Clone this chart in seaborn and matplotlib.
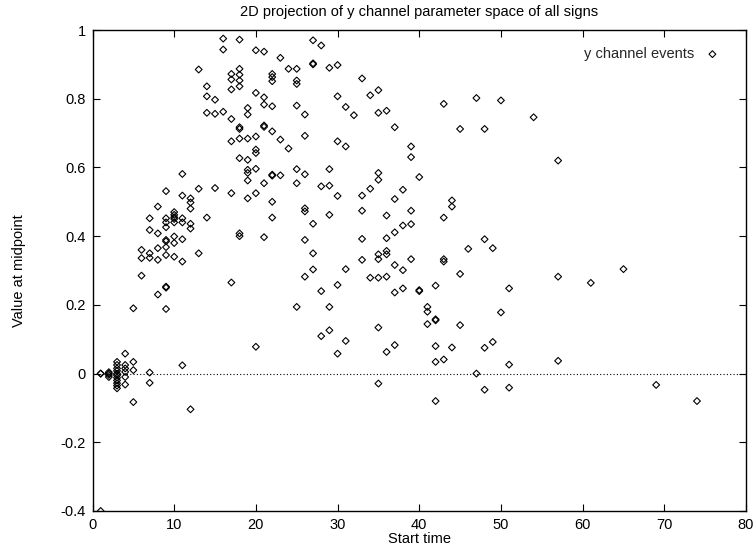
import matplotlib
matplotlib.use("Agg")
import matplotlib.pyplot as plt
import seaborn as sns
import pandas as pd

# ---- data ----
start_time = [
    1, 1, 1,
    2, 2, 2, 2,
    3, 3, 3, 3, 3, 3, 3, 3, 3, 3, 3,
    4, 4, 4, 4, 4, 4,
    5, 5, 5, 5,
    6, 6, 6,
    7, 7, 7, 7, 7, 7,
    8, 8, 8, 8, 8,
    9, 9, 9, 9, 9, 9, 9, 9, 9, 9, 9,
    10, 10, 10, 10, 10, 10, 10, 10,
    11, 11, 11, 11, 11, 11, 11,
    12, 12, 12, 12, 12, 12,
    13, 13, 13,
    14, 14, 14, 14,
    15, 15, 15,
    16, 16, 16,
    17, 17, 17, 17, 17, 17, 17,
    18, 18, 18, 18, 18, 18, 18, 18, 18, 18, 18,
    19, 19, 19, 19, 19, 19, 19, 19,
    20, 20, 20, 20, 20, 20, 20, 20,
    21, 21, 21, 21, 21, 21, 21,
    22, 22, 22, 22, 22, 22, 22, 22, 22,
    23, 23, 23,
    24, 24,
    25, 25, 25, 25, 25, 25, 25,
    26, 26, 26, 26, 26, 26, 26,
    27, 27, 27, 27, 27, 27,
    28, 28, 28, 28,
    29, 29, 29, 29, 29, 29,
    30, 30, 30, 30, 30, 30,
    31, 31, 31, 31,
    32,
    33, 33, 33, 33, 33,
    34, 34, 34,
    35, 35, 35, 35, 35, 35, 35, 35, 35,
    36, 36, 36, 36, 36, 36, 36,
    37, 37, 37, 37, 37, 37,
    38, 38, 38, 38,
    39, 39, 39, 39, 39,
    40, 40, 40,
    41, 41, 41,
    42, 42, 42, 42, 42, 42,
    43, 43, 43, 43, 43,
    44, 44, 44,
    45, 45, 45,
    46,
    47, 47,
    48, 48, 48, 48,
    49, 49,
    50, 50,
    51, 51, 51,
    54,
    57, 57, 57,
    61,
    65,
    69,
    74,
]

value_at_midpoint = [
    0.0, 0.0, -0.4,
    0.004, 0.0, -0.004, -0.01,
    0.034, 0.025, 0.015, 0.008, 0.0, -0.005, -0.012, -0.02, -0.028, -0.035, -0.043,
    0.058, 0.025, 0.015, 0.005, -0.01, -0.032,
    0.19, 0.034, 0.01, -0.083,
    0.36, 0.336, 0.285,
    0.452, 0.418, 0.35, 0.337, 0.003, -0.027,
    0.486, 0.408, 0.365, 0.331, 0.23,
    0.531, 0.452, 0.44, 0.426, 0.389, 0.385, 0.368, 0.345, 0.253, 0.25, 0.188,
    0.47, 0.462, 0.455, 0.45, 0.44, 0.399, 0.38, 0.34,
    0.581, 0.518, 0.452, 0.44, 0.391, 0.326, 0.024,
    0.51, 0.498, 0.48, 0.436, 0.422, -0.104,
    0.885, 0.538, 0.35,
    0.836, 0.807, 0.759, 0.454,
    0.797, 0.756, 0.54,
    0.975, 0.943, 0.762,
    0.872, 0.856, 0.827, 0.741, 0.676, 0.525, 0.265,
    0.972, 0.887, 0.87, 0.853, 0.836, 0.717, 0.712, 0.684, 0.627, 0.408, 0.40,
    0.773, 0.754, 0.684, 0.622, 0.593, 0.584, 0.562, 0.51,
    0.941, 0.817, 0.69, 0.652, 0.642, 0.596, 0.525, 0.078,
    0.937, 0.804, 0.783, 0.722, 0.718, 0.554, 0.397,
    0.872, 0.863, 0.851, 0.778, 0.705, 0.579, 0.576, 0.5, 0.454,
    0.919, 0.681, 0.577,
    0.887, 0.655,
    0.887, 0.853, 0.843, 0.78, 0.595, 0.554, 0.194,
    0.754, 0.692, 0.58, 0.481, 0.472, 0.389, 0.282,
    0.97, 0.903, 0.90, 0.436, 0.35, 0.303,
    0.955, 0.545, 0.24, 0.109,
    0.89, 0.595, 0.547, 0.462, 0.194, 0.126,
    0.898, 0.807, 0.676, 0.517, 0.258, 0.058,
    0.776, 0.661, 0.304, 0.095,
    0.752,
    0.859, 0.518, 0.474, 0.392, 0.331,
    0.81, 0.538, 0.279,
    0.825, 0.759, 0.584, 0.564, 0.347, 0.333, 0.279, 0.134, -0.029,
    0.765, 0.46, 0.394, 0.357, 0.347, 0.282, 0.063,
    0.717, 0.508, 0.411, 0.316, 0.236, 0.083,
    0.535, 0.431, 0.301, 0.248,
    0.661, 0.63, 0.474, 0.435, 0.333,
    0.572, 0.243, 0.24,
    0.194, 0.18, 0.144,
    0.256, 0.158, 0.155, 0.08, 0.034, -0.08,
    0.785, 0.454, 0.333, 0.326, 0.041,
    0.504, 0.486, 0.076,
    0.712, 0.29, 0.141,
    0.363,
    0.802, 0.0,
    0.712, 0.391, 0.075, -0.047,
    0.365, 0.092,
    0.795, 0.178,
    0.248, 0.026, -0.041,
    0.746,
    0.62, 0.282, 0.037,
    0.264,
    0.304,
    -0.033,
    -0.08,
]

x_ticks = [0, 10, 20, 30, 40, 50, 60, 70, 80]
y_ticks = [-0.4, -0.2, 0, 0.2, 0.4, 0.6, 0.8, 1]
y_tick_labels = ["-0.4", "-0.2", "0", "0.2", "0.4", "0.6", "0.8", "1"]

series_name = "y channel events"

# ---- style ----
FS = 10.5
sns.set_theme(style="white")
plt.rcParams["font.family"] = ["Liberation Sans", "DejaVu Sans"]
plt.rcParams["font.size"] = FS

df = pd.DataFrame({"Start time": start_time,
                   "Value at midpoint": value_at_midpoint})

fig = plt.figure(figsize=(7.53, 5.46), dpi=100)
ax = fig.add_axes([92.5 / 753, 1 - 511 / 546, (746 - 92.5) / 753, (511 - 30) / 546])

ax.axhline(0, color="black", lw=0.8, ls=(0, (1, 2)), zorder=1)

sns.scatterplot(data=df, x="Start time", y="Value at midpoint",
                color="black", marker="D", s=12, linewidth=0.8,
                label=series_name, ax=ax, zorder=3)
pts = ax.collections[-1]
pts.set_facecolor("none")
pts.set_edgecolor("black")
pts.set_linewidth(0.8)

ax.set_xlim(0, 80)
ax.set_ylim(-0.4, 1)
ax.set_xticks(x_ticks)
ax.set_yticks(y_ticks)
ax.set_yticklabels(y_tick_labels)

for sp in ax.spines.values():
    sp.set_color("black")
    sp.set_linewidth(1.0)

ax.tick_params(direction="in", length=5, width=0.8, color="black",
               top=True, right=True, bottom=True, left=True,
               labelsize=FS, labelcolor="black", pad=5)

ax.set_title("2D projection of y channel parameter space of all signs",
             fontsize=FS, color="black", pad=10)
ax.set_xlabel("Start time", fontsize=FS, color="black", labelpad=0)
ax.set_ylabel("Value at midpoint", fontsize=FS, color="black", labelpad=25)

leg = ax.legend(loc="upper right", frameon=False, markerfirst=False,
                fontsize=FS, handletextpad=0.25, bbox_to_anchor=(0.991, 0.992))
for h in leg.legend_handles:
    if hasattr(h, "set_markerfacecolor"):
        h.set_markerfacecolor("none")
        h.set_markeredgecolor("black")
        h.set_markeredgewidth(0.8)
        h.set_markersize(12 ** 0.5)
    else:
        h.set_facecolor("none")
        h.set_edgecolor("black")
        h.set_linewidth(0.8)
        h.set_sizes([12])

fig.savefig("out.png", dpi=100, facecolor="white")
